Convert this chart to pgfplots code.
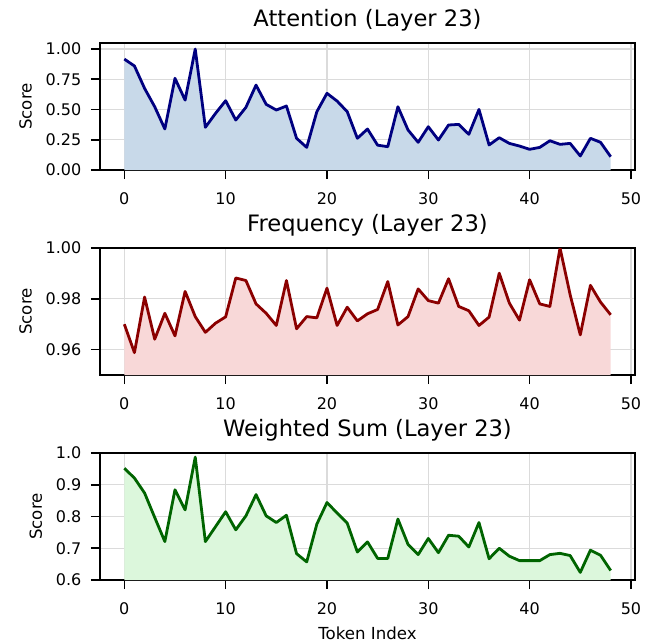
\documentclass[border=0pt]{standalone}
\usepackage{fontspec}
\setmainfont{DejaVu Sans}
\usepackage{pgfplots}
\usepackage{pgfplotstable}
\pgfplotsset{compat=1.18}

\definecolor{attline}{RGB}{0,0,128}
\definecolor{attfill}{RGB}{200,217,233}
\definecolor{frqline}{RGB}{139,0,0}
\definecolor{frqfill}{RGB}{248,216,216}
\definecolor{wsline}{RGB}{0,100,0}
\definecolor{wsfill}{RGB}{220,247,220}

% token, attention, frequency, weighted sum
\pgfplotstableread{
t att freq ws
0 0.917 0.9700 0.952
1 0.860 0.9588 0.921
2 0.675 0.9807 0.874
3 0.523 0.9641 0.797
4 0.339 0.9743 0.721
5 0.758 0.9654 0.884
6 0.578 0.9829 0.821
7 1.000 0.9730 0.987
8 0.353 0.9668 0.721
9 0.468 0.9704 0.768
10 0.573 0.9729 0.815
11 0.413 0.9882 0.758
12 0.518 0.9872 0.802
13 0.702 0.9780 0.869
14 0.543 0.9743 0.802
15 0.496 0.9695 0.781
16 0.529 0.9872 0.804
17 0.262 0.9682 0.683
18 0.187 0.9730 0.657
19 0.482 0.9725 0.776
20 0.634 0.9842 0.844
21 0.570 0.9695 0.811
22 0.482 0.9767 0.779
23 0.262 0.9713 0.688
24 0.339 0.9741 0.720
25 0.205 0.9758 0.668
26 0.193 0.9868 0.668
27 0.523 0.9697 0.792
28 0.331 0.9730 0.712
29 0.229 0.9839 0.680
30 0.358 0.9793 0.731
31 0.248 0.9783 0.686
32 0.372 0.9879 0.741
33 0.377 0.9770 0.738
34 0.295 0.9753 0.704
35 0.501 0.9695 0.781
36 0.207 0.9728 0.667
37 0.267 0.9901 0.700
38 0.220 0.9783 0.675
39 0.198 0.9716 0.661
40 0.171 0.9875 0.661
41 0.187 0.9780 0.661
42 0.242 0.9770 0.680
43 0.212 1.0000 0.684
44 0.220 0.9816 0.677
45 0.116 0.9658 0.624
46 0.262 0.9853 0.694
47 0.229 0.9787 0.678
48 0.110 0.9737 0.630
}\scores

\pgfplotsset{
  panel/.style={
    scale only axis, width=267.5pt, height=63.5pt,
    anchor=south west,
    xmin=-2.4, xmax=50.4, xtick={0,10,...,50},
    axis line style={line width=1pt},
    tick align=outside, tick pos=left,
    major tick length=4.5pt,
    every tick/.style={black, line width=0.8pt},
    grid=major,
    major grid style={line width=0.6pt, black!14},
    tick label style={font=\fontsize{8}{9.5}\selectfont},
    xticklabel style={yshift=-3.3pt},
    yticklabel style={xshift=-1.3pt},
    /pgf/number format/assume math mode=true,
    ylabel={Score},
    ylabel style={font=\fontsize{8.3}{10}\selectfont},
    title style={font=\fontsize{11.3}{13}\selectfont, at={(0.5,1)}, anchor=base, yshift=2.3pt},
  },
}

\begin{document}
\begin{tikzpicture}
\begin{axis}[panel, at={(50pt,-85pt)},
  title={Attention (Layer 23)},
  ymin=0, ymax=1.05, ytick={0,0.25,0.5,0.75,1},
  yticklabel style={/pgf/number format/.cd, fixed, fixed zerofill, precision=2}]
  \addplot[draw=none, fill=attfill] table[x=t, y=att] {\scores} \closedcycle;
  \addplot[attline, line width=1.4pt, line join=round] table[x=t, y=att] {\scores};
\end{axis}

\begin{axis}[panel, at={(50pt,-187.5pt)},
  title={Frequency (Layer 23)},
  ymin=0.95, ymax=1.0, ytick={0.96,0.98,1.0},
  yticklabel style={/pgf/number format/.cd, fixed, fixed zerofill, precision=2}]
  \addplot[draw=none, fill=frqfill] table[x=t, y=freq] {\scores} \closedcycle;
  \addplot[frqline, line width=1.4pt, line join=round] table[x=t, y=freq] {\scores};
\end{axis}

\begin{axis}[panel, at={(50pt,-290pt)},
  title={Weighted Sum (Layer 23)},
  xlabel={Token Index},
  xlabel style={font=\fontsize{8.3}{10}\selectfont, at={(axis description cs:0.5,0)}, anchor=base, yshift=-29.5pt},
  ymin=0.6, ymax=1.0, ytick={0.6,0.7,0.8,0.9,1.0},
  yticklabel style={/pgf/number format/.cd, fixed, fixed zerofill, precision=1}]
  \addplot[draw=none, fill=wsfill] table[x=t, y=ws] {\scores} \closedcycle;
  \addplot[wsline, line width=1.4pt, line join=round] table[x=t, y=ws] {\scores};
\end{axis}

\pgfresetboundingbox
\path[use as bounding box] (0,0) rectangle (327.5pt,-322pt);
\end{tikzpicture}
\end{document}
